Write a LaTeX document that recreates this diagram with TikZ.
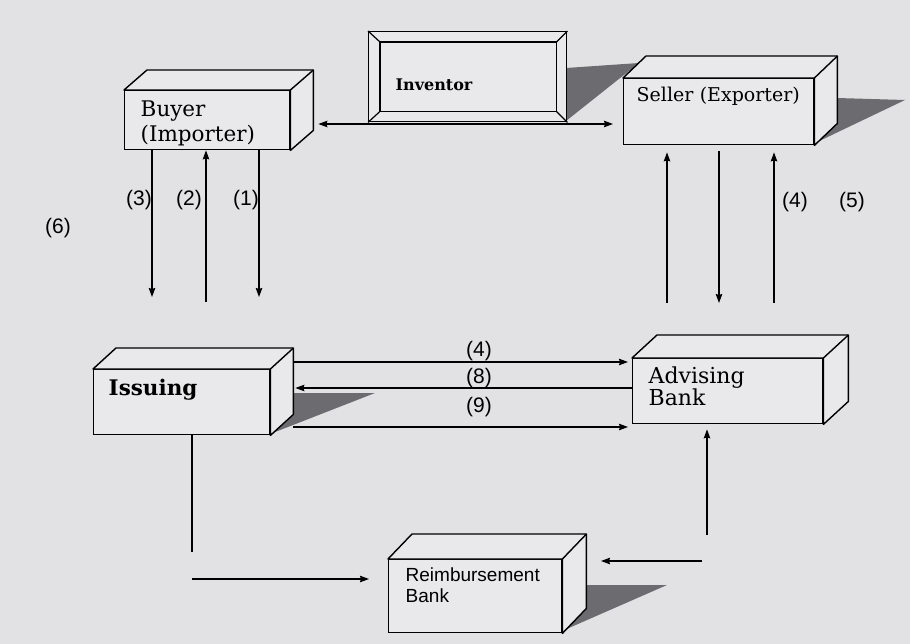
\documentclass[tikz,border=0pt]{standalone}
\usepackage{fontspec}
\setmainfont{DejaVu Serif}
\setsansfont{Liberation Sans}
\usetikzlibrary{arrows.meta,calc}

\definecolor{paper}{RGB}{226,226,229}
\definecolor{boxfill}{RGB}{233,233,235}
\definecolor{shadowgray}{RGB}{108,108,112}

\tikzset{
  flow/.style={line width=1.2pt},
  face/.style={draw, line width=1.4pt, fill=boxfill, rectangle, inner ysep=0pt,
    anchor=north west, align=left},
  num/.style={font=\sffamily\fontsize{21}{21}\selectfont, inner sep=0pt},
  boxshadow/.style={fill=shadowgray, draw=none},
}
% top and right faces of a box drawn behind the node #1, depth (#2,#3)
\newcommand{\boxdepth}[3]{%
  \draw[line width=1.4pt, fill=boxfill, line join=round]
    (#1.north west) -- ++(#2,#3) -- ($(#1.north east)+(#2,#3)$)
    -- ($(#1.south east)+(#2,#3)$) -- (#1.south east) -- (#1.north east) -- cycle;
  \draw[line width=1.4pt] (#1.north east) -- ++(#2,#3);
  \coordinate (#1back) at ($(#1.east)+(#2,0)$);
}

\begin{document}
\begin{tikzpicture}[x=1pt,y=-1pt,>={Stealth[length=9pt,width=6.5pt,inset=1pt]}]
\fill[paper] (0,0) rectangle (910,644);
\useasboundingbox (0,0) rectangle (910,644);

% shadows
\fill[boxshadow] (566,68) -- (639,63) -- (566,121) -- cycle;
\fill[boxshadow] (837,98) -- (905,100) -- (813,144) -- cycle;
\fill[boxshadow] (292,393) -- (375,393) -- (270,434) -- cycle;
\fill[boxshadow] (585,585) -- (667,585) -- (562,631) -- cycle;

% inventor frame
\node[face, text width=144pt, inner xsep=27pt, text height=59pt, text depth=31pt,
  font=\bfseries\fontsize{16}{16}\selectfont] (inventor) at (368,31) {Inventor};
\draw[line width=1.2pt] ($(inventor.north west)+(12,11)$) rectangle ($(inventor.south east)+(-11,-11)$);
\draw[line width=1.2pt] (inventor.north west) -- ++(12,11);
\draw[line width=1.2pt] (inventor.north east) -- ++(-11,11);
\draw[line width=1.2pt] (inventor.south west) -- ++(12,-11);
\draw[line width=1.2pt] (inventor.south east) -- ++(-11,-11);

% boxes
\node[face, text width=133pt, inner xsep=16pt, text height=26pt, text depth=33pt,
  font=\fontsize{21.5}{25}\selectfont] (buyer) at (124,90) {Buyer\\(Importer)};
\boxdepth{buyer}{23}{-20}
\node[face, text width=164pt, inner xsep=13pt, text height=23pt, text depth=43pt,
  font=\fontsize{19}{22}\selectfont] (seller) at (623,78) {Seller (Exporter)};
\boxdepth{seller}{23}{-22}
\node[face, text width=146pt, inner xsep=15pt, text height=26pt, text depth=39pt,
  font=\bfseries\fontsize{21.5}{24}\selectfont] (issuing) at (93,369) {Issuing};
\boxdepth{issuing}{23}{-21}
\node[face, text width=158pt, inner xsep=16pt, text height=25pt, text depth=40pt,
  font=\fontsize{22}{22}\selectfont] (advising) at (632,358) {Advising\\Bank};
\boxdepth{advising}{25}{-23}
\node[face, text width=139pt, inner xsep=17pt, text height=22pt, text depth=51pt,
  font=\sffamily\fontsize{19}{21}\selectfont] (reimb) at (388,559) {Reimbursement\\Bank};
\boxdepth{reimb}{24}{-25}

% free ends
\coordinate (b3) at (152,297);
\coordinate (b2) at (206,302);
\coordinate (b1) at (259,297);
\coordinate (s1) at (667,303);
\coordinate (s2) at (719,303);
\coordinate (s3) at (774,303);
\coordinate (isdown) at (192,552);
\coordinate (payfrom) at (192,579);
\coordinate (payto) at (369,579);
\coordinate (clmfrom) at (702,561);
\coordinate (clmto) at (601,561);
\coordinate (advup) at (707,535);

% buyer and seller
\draw[flow,<->,shorten <=5pt,shorten >=10pt] (buyerback |- 0,124) -- (seller.west |- 0,124);

% buyer and issuing bank
\draw[flow,->] (152,0 |- buyer.south) -- (b3);
\draw[flow,->] (b2) -- (206,0 |- buyer.south);
\draw[flow,->] (259,0 |- buyer.south) -- (b1);
\node[num] (l3) at (139,200) {(3)};
\node[num] (l2) at (189,200) {(2)};
\node[num] (l1) at (246,200) {(1)};
\node[num] (l6) at (58,228) {(6)};

% seller and advising bank
\draw[flow,->,shorten >=7pt] (s1) -- (667,0 |- seller.south);
\draw[flow,->,shorten <=6pt] (719,0 |- seller.south) -- (s2);
\draw[flow,->,shorten >=7pt] (s3) -- (774,0 |- seller.south);
\node[num] (l4s) at (795,202) {(4)};
\node[num] (l5) at (852,202) {(5)};

% issuing and advising bank
\draw[flow,->,shorten >=4pt] (issuingback |- 0,362) -- (advising.west |- 0,362);
\draw[flow,->,shorten >=2pt] (advising.west |- 0,388) -- (issuingback |- 0,388);
\draw[flow,->,shorten >=4pt] (issuingback |- 0,427) -- (advising.west |- 0,427);
\node[num] (l4) at (479,351) {(4)};
\node[num] (l8) at (479,378) {(8)};
\node[num] (l9) at (479,407) {(9)};

% reimbursement
\draw[flow] (192,0 |- issuing.south) -- (isdown);
\draw[flow,->] (payfrom) -- (payto);
\draw[flow,->] (clmfrom) -- (clmto);
\draw[flow,->,shorten >=5pt] (advup) -- (707,0 |- advising.south);
\end{tikzpicture}
\end{document}
